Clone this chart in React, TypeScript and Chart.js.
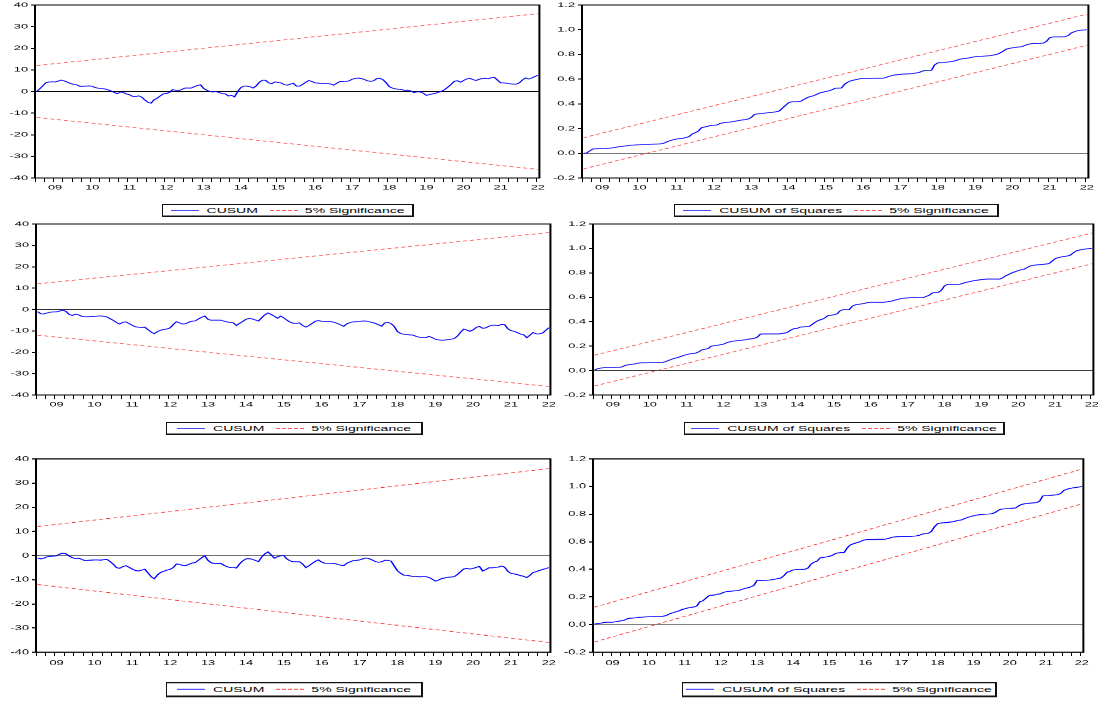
import React, { useEffect, useRef } from "react";
import { Chart, registerables } from "chart.js";

Chart.register(...registerables);

// ---------- DATA (monthly, 2008M07 .. 2022M01) ----------
const yearLabels = ["09", "10", "11", "12", "13", "14", "15", "16", "17", "18", "19", "20", "21", "22"];
const yearLabelIndex = [6, 18, 30, 42, 54, 66, 78, 90, 102, 114, 126, 138, 150, 162];

const cusumTicks = [-40, -30, -20, -10, 0, 10, 20, 30, 40];
const sqTicks = [-0.2, 0, 0.2, 0.4, 0.6, 0.8, 1.0, 1.2];

const cusumUpper = [12, 36];
const cusumLower = [-12, -36];
const sqUpper = [0.126, 1.126];
const sqLower = [-0.126, 0.874];

const cusum1 = [
  0.0, 1.2, 2.6, 4.0, 4.4, 4.5, 4.4, 4.8, 5.3, 4.9,
  4.3, 3.7, 3.3, 3.1, 2.4, 2.4, 2.5, 2.6, 2.4, 1.8,
  1.5, 1.4, 1.2, 0.8, 0.3, -0.4, -1.0, -0.3, -0.4, -1.1,
  -1.5, -2.2, -2.4, -2.0, -2.6, -3.9, -5.0, -5.4, -3.8, -3.1,
  -2.0, -1.1, -0.9, -0.4, 0.9, 0.5, 0.4, 1.0, 1.6, 1.6,
  1.6, 2.2, 2.8, 3.1, 1.4, 0.6, 0.0, -0.2, 0.0, -0.5,
  -1.0, -1.1, -2.1, -1.8, -2.5, 0.0, 1.8, 2.5, 2.5, 2.2,
  1.6, 2.6, 4.3, 5.2, 5.2, 4.0, 3.6, 4.4, 4.2, 4.0,
  3.2, 2.9, 3.4, 3.8, 2.5, 2.5, 3.3, 4.3, 5.1, 4.6,
  4.0, 3.9, 3.7, 3.7, 3.7, 3.5, 2.9, 3.8, 4.6, 4.6,
  4.7, 4.9, 5.7, 6.0, 6.2, 6.0, 5.5, 4.9, 4.7, 5.0,
  6.0, 6.1, 5.4, 4.0, 2.2, 1.6, 1.2, 1.0, 0.9, 0.5,
  0.6, 0.2, -0.5, -0.1, -0.2, -0.8, -1.8, -1.4, -1.1, -0.8,
  -0.3, 0.2, 1.0, 2.1, 3.3, 4.7, 5.0, 4.3, 5.1, 5.8,
  6.1, 5.5, 5.1, 5.6, 6.0, 6.1, 5.9, 6.4, 6.5, 5.2,
  4.0, 4.0, 3.8, 3.6, 3.4, 3.4, 4.0, 5.3, 6.3, 5.8,
  6.2, 6.9, 7.5,
];

const cusumSq1 = [
  0.000, 0.002, 0.020, 0.035, 0.037, 0.038, 0.038, 0.039, 0.041, 0.043,
  0.047, 0.052, 0.055, 0.058, 0.061, 0.065, 0.066, 0.068, 0.069, 0.070,
  0.071, 0.072, 0.073, 0.074, 0.075, 0.077, 0.083, 0.095, 0.103, 0.111,
  0.116, 0.119, 0.122, 0.128, 0.135, 0.157, 0.167, 0.180, 0.208, 0.213,
  0.219, 0.226, 0.227, 0.229, 0.242, 0.247, 0.250, 0.252, 0.255, 0.260,
  0.265, 0.269, 0.272, 0.277, 0.290, 0.314, 0.319, 0.321, 0.324, 0.327,
  0.330, 0.332, 0.336, 0.342, 0.365, 0.387, 0.410, 0.417, 0.417, 0.417,
  0.422, 0.436, 0.450, 0.460, 0.465, 0.476, 0.488, 0.494, 0.501, 0.505,
  0.515, 0.526, 0.527, 0.528, 0.558, 0.575, 0.586, 0.592, 0.598, 0.603,
  0.606, 0.606, 0.606, 0.606, 0.607, 0.607, 0.607, 0.610, 0.620, 0.627,
  0.633, 0.636, 0.639, 0.641, 0.642, 0.643, 0.646, 0.650, 0.654, 0.664,
  0.671, 0.671, 0.672, 0.715, 0.732, 0.733, 0.735, 0.738, 0.741, 0.745,
  0.751, 0.761, 0.765, 0.768, 0.771, 0.777, 0.781, 0.783, 0.784, 0.786,
  0.788, 0.790, 0.795, 0.800, 0.811, 0.825, 0.842, 0.849, 0.853, 0.857,
  0.860, 0.862, 0.873, 0.881, 0.886, 0.889, 0.889, 0.890, 0.892, 0.905,
  0.935, 0.941, 0.942, 0.942, 0.942, 0.944, 0.953, 0.974, 0.984, 0.992,
  0.996, 0.998, 1.000,
];

const cusum2 = [
  -1.0, -2.0, -2.1, -1.6, -1.3, -1.1, -1.1, -0.7, -0.3, -0.9,
  -2.3, -2.8, -2.2, -2.5, -3.2, -3.4, -3.4, -3.3, -3.2, -3.1,
  -3.0, -3.2, -3.5, -4.3, -5.1, -6.1, -6.8, -6.0, -5.8, -6.6,
  -7.4, -8.1, -8.3, -8.4, -8.3, -9.4, -10.6, -11.3, -10.3, -9.7,
  -9.3, -9.1, -8.6, -7.0, -5.7, -6.3, -6.8, -6.6, -5.9, -5.5,
  -5.3, -4.4, -3.6, -3.1, -4.6, -5.0, -5.0, -5.0, -5.0, -5.4,
  -5.8, -6.1, -6.2, -7.5, -6.5, -5.6, -4.6, -4.2, -4.4, -4.9,
  -5.4, -3.9, -2.5, -1.6, -2.3, -3.1, -4.1, -3.1, -3.9, -5.0,
  -5.9, -6.4, -6.5, -6.3, -7.5, -8.2, -7.5, -6.5, -5.5, -5.2,
  -5.5, -5.6, -5.6, -5.7, -6.0, -6.5, -7.2, -7.9, -6.7, -6.1,
  -5.8, -5.7, -5.6, -5.4, -5.4, -5.7, -6.1, -6.5, -7.1, -7.8,
  -6.3, -6.0, -6.6, -7.9, -10.3, -11.2, -11.6, -11.7, -11.9, -12.0,
  -12.6, -13.0, -13.1, -13.2, -12.6, -13.1, -13.9, -14.2, -14.4, -14.3,
  -14.1, -13.9, -13.6, -12.5, -10.7, -9.2, -9.6, -10.2, -9.5, -8.4,
  -7.9, -8.8, -8.6, -7.8, -7.4, -7.3, -7.5, -7.0, -7.1, -9.0,
  -9.9, -10.2, -10.8, -11.5, -11.8, -13.2, -12.0, -10.8, -11.4, -11.4,
  -11.0, -9.8, -8.5,
];

const cusumSq2 = [
  0.005, 0.015, 0.020, 0.024, 0.025, 0.025, 0.025, 0.025, 0.026, 0.030,
  0.043, 0.048, 0.051, 0.054, 0.060, 0.063, 0.064, 0.064, 0.065, 0.065,
  0.065, 0.065, 0.066, 0.072, 0.082, 0.091, 0.100, 0.106, 0.114, 0.124,
  0.131, 0.137, 0.140, 0.143, 0.154, 0.170, 0.175, 0.180, 0.200, 0.203,
  0.206, 0.211, 0.216, 0.227, 0.235, 0.240, 0.243, 0.246, 0.248, 0.252,
  0.257, 0.260, 0.264, 0.272, 0.298, 0.300, 0.300, 0.300, 0.300, 0.300,
  0.300, 0.304, 0.307, 0.315, 0.333, 0.343, 0.345, 0.356, 0.358, 0.360,
  0.362, 0.380, 0.398, 0.411, 0.419, 0.430, 0.450, 0.453, 0.457, 0.464,
  0.490, 0.499, 0.499, 0.499, 0.528, 0.539, 0.542, 0.546, 0.550, 0.557,
  0.559, 0.559, 0.559, 0.559, 0.559, 0.561, 0.566, 0.570, 0.578, 0.584,
  0.590, 0.593, 0.595, 0.597, 0.597, 0.597, 0.597, 0.597, 0.607, 0.616,
  0.635, 0.640, 0.640, 0.658, 0.694, 0.706, 0.706, 0.706, 0.706, 0.707,
  0.715, 0.722, 0.727, 0.733, 0.737, 0.741, 0.745, 0.747, 0.749, 0.749,
  0.749, 0.749, 0.749, 0.760, 0.777, 0.788, 0.800, 0.809, 0.819, 0.825,
  0.830, 0.845, 0.857, 0.862, 0.865, 0.867, 0.869, 0.872, 0.875, 0.895,
  0.915, 0.925, 0.930, 0.934, 0.938, 0.945, 0.965, 0.980, 0.987, 0.992,
  0.995, 0.998, 1.000,
];

const cusum3 = [
  -1.0, -1.4, -1.1, -0.5, -0.3, -0.2, -0.1, 0.6, 1.0, 0.7,
  -0.2, -0.9, -1.2, -1.1, -1.6, -2.1, -2.0, -1.9, -1.8, -1.8,
  -1.9, -1.7, -1.6, -2.5, -3.6, -5.0, -5.3, -4.6, -4.2, -4.9,
  -5.6, -6.2, -6.4, -6.0, -5.7, -7.2, -8.8, -9.6, -8.0, -7.0,
  -6.5, -6.0, -5.7, -5.0, -3.5, -3.7, -4.1, -4.2, -3.6, -3.1,
  -2.9, -1.9, -0.9, -0.1, -2.0, -3.0, -3.3, -3.3, -3.2, -4.0,
  -4.6, -5.0, -4.8, -5.2, -3.5, -2.2, -1.4, -1.3, -1.5, -2.0,
  -2.5, -0.6, 0.7, 1.5, 0.3, -1.1, -0.5, -0.1, 0.0, -1.4,
  -2.2, -2.6, -2.6, -2.6, -3.5, -5.0, -4.2, -3.3, -2.4, -1.8,
  -2.7, -3.2, -3.2, -3.2, -3.3, -3.6, -4.0, -4.2, -3.2, -2.6,
  -2.1, -2.0, -1.8, -1.4, -1.0, -1.3, -1.8, -2.5, -2.8, -2.6,
  -2.0, -2.0, -2.3, -4.3, -6.3, -7.3, -8.1, -8.2, -8.4, -8.7,
  -8.6, -8.8, -8.7, -8.7, -9.1, -9.7, -10.6, -10.2, -9.5, -9.3,
  -9.0, -8.9, -8.7, -7.9, -6.7, -5.6, -5.3, -5.6, -5.3, -4.9,
  -4.5, -6.4, -5.8, -5.1, -5.1, -4.9, -4.8, -4.3, -4.8, -6.5,
  -7.4, -7.6, -7.9, -8.3, -8.6, -9.1, -8.2, -7.0, -6.7, -6.2,
  -5.8, -5.4, -5.0,
];

const cusumSq3 = [
  0.004, 0.007, 0.010, 0.014, 0.017, 0.017, 0.017, 0.020, 0.024, 0.028,
  0.032, 0.043, 0.046, 0.048, 0.050, 0.053, 0.054, 0.056, 0.057, 0.058,
  0.058, 0.058, 0.058, 0.061, 0.067, 0.078, 0.085, 0.092, 0.099, 0.108,
  0.114, 0.120, 0.124, 0.127, 0.134, 0.165, 0.172, 0.190, 0.209, 0.212,
  0.215, 0.220, 0.224, 0.234, 0.239, 0.241, 0.243, 0.245, 0.247, 0.255,
  0.262, 0.267, 0.273, 0.284, 0.319, 0.319, 0.319, 0.320, 0.322, 0.325,
  0.329, 0.333, 0.337, 0.355, 0.379, 0.385, 0.396, 0.397, 0.398, 0.400,
  0.401, 0.410, 0.439, 0.451, 0.460, 0.483, 0.487, 0.490, 0.494, 0.501,
  0.514, 0.519, 0.521, 0.522, 0.555, 0.577, 0.585, 0.592, 0.598, 0.608,
  0.614, 0.615, 0.616, 0.616, 0.617, 0.617, 0.618, 0.620, 0.626, 0.633,
  0.635, 0.637, 0.638, 0.638, 0.638, 0.638, 0.640, 0.642, 0.647, 0.656,
  0.660, 0.662, 0.675, 0.708, 0.730, 0.735, 0.737, 0.739, 0.742, 0.744,
  0.750, 0.755, 0.758, 0.768, 0.776, 0.783, 0.788, 0.793, 0.796, 0.798,
  0.800, 0.801, 0.803, 0.810, 0.824, 0.836, 0.838, 0.840, 0.841, 0.843,
  0.845, 0.860, 0.871, 0.875, 0.878, 0.880, 0.882, 0.884, 0.895, 0.932,
  0.934, 0.935, 0.937, 0.939, 0.941, 0.950, 0.972, 0.980, 0.986, 0.990,
  0.993, 0.996, 1.000,
];

// ---------- LAYOUT / STYLE ----------
const FONT = "'Liberation Sans', Arial, Helvetica, sans-serif";
const N = cusum1.length;
const quarterTickIndex = Array.from({ length: 55 }, (_, k) => -0.5 + 3 * k);
const xTickValues = [...quarterTickIndex, ...yearLabelIndex].sort((a, b) => a - b);

type PanelCfg = {
  kind: "cusum" | "sq";
  series: number[];
  label: string;
  L: number; T: number; R: number; B: number;
  s: number;
  zero: string;
  legend: { left: number; top: number; width: number; height: number };
};

const panels: PanelCfg[] = [
  { kind: "cusum", series: cusum1, label: "CUSUM", L: 35, T: 5, R: 541, B: 178, s: 0.5, zero: "#000000", legend: { left: 162, top: 204, width: 252, height: 13 } },
  { kind: "sq", series: cusumSq1, label: "CUSUM of Squares", L: 582, T: 5, R: 1090, B: 178, s: 0.5, zero: "#7a7a7a", legend: { left: 674, top: 204, width: 325, height: 13 } },
  { kind: "cusum", series: cusum2, label: "CUSUM", L: 36, T: 224, R: 552, B: 395, s: 0.5, zero: "#303030", legend: { left: 166, top: 422, width: 257, height: 13 } },
  { kind: "sq", series: cusumSq2, label: "CUSUM of Squares", L: 593, T: 224, R: 1095, B: 395, s: 0.5, zero: "#404040", legend: { left: 684, top: 422, width: 321, height: 13 } },
  { kind: "cusum", series: cusum3, label: "CUSUM", L: 36, T: 459, R: 553, B: 652, s: 0.565, zero: "#707070", legend: { left: 166, top: 682, width: 257, height: 15 } },
  { kind: "sq", series: cusumSq3, label: "CUSUM of Squares", L: 593, T: 459, R: 1086, B: 652, s: 0.565, zero: "#808080", legend: { left: 682, top: 682, width: 315, height: 15 } },
];

const framePlugin = {
  id: "frame",
  afterDatasetsDraw(chart: any) {
    const { ctx, chartArea } = chart;
    const { left, top, right, bottom } = chartArea;
    ctx.save();
    ctx.strokeStyle = "#000";
    ctx.lineWidth = 2;
    ctx.strokeRect(left, top, right - left, bottom - top);
    ctx.restore();
  },
};

const Y_W = 40;
const R_PAD = 8;

function Panel({ cfg }: { cfg: PanelCfg }) {
  const ref = useRef<HTMLCanvasElement | null>(null);
  const s = cfg.s;
  const tN = Math.round(8 / s);
  const bN = Math.round(18 / s);
  const plotHN = Math.round((cfg.B - cfg.T) / s);
  const hN = plotHN + tN + bN;
  const w = cfg.R - cfg.L + Y_W + R_PAD;
  const left = cfg.L - Y_W;
  const top = cfg.T - tN * s;

  useEffect(() => {
    if (!ref.current) return;
    const isSq = cfg.kind === "sq";
    const up = isSq ? sqUpper : cusumUpper;
    const lo = isSq ? sqLower : cusumLower;
    const yTicks = isSq ? sqTicks : cusumTicks;
    const tickFont = { family: FONT, size: 12.8 };
    const tickLenX = Math.round(4 / s);
    const sigStyle = {
      borderColor: "#ff2a2a",
      borderWidth: 1.2,
      borderDash: [4, 3],
      pointRadius: 0,
    };
    const chart = new Chart(ref.current, {
      type: "line",
      data: {
        datasets: [
          {
            label: cfg.label,
            data: cfg.series.map((y, i) => ({ x: i, y })),
            borderColor: "#0000ff",
            borderWidth: 1.6,
            pointRadius: 0,
            tension: 0,
          },
          {
            label: "5% Significance",
            data: [{ x: 0, y: up[0] }, { x: N - 1, y: up[1] }],
            ...sigStyle,
          },
          {
            label: "",
            data: [{ x: 0, y: lo[0] }, { x: N - 1, y: lo[1] }],
            ...sigStyle,
          },
        ],
      },
      options: {
        animation: false,
        responsive: false,
        devicePixelRatio: 1,
        events: [],
        layout: { padding: { top: tN, right: R_PAD, left: 0, bottom: 0 } },
        plugins: { legend: { display: false }, tooltip: { enabled: false } },
        scales: {
          x: {
            type: "linear",
            min: -0.5,
            max: N - 0.5,
            afterBuildTicks: (sc: any) => {
              sc.ticks = xTickValues.map((v) => ({ value: v }));
            },
            afterFit: (sc: any) => {
              sc.height = bN;
            },
            ticks: {
              autoSkip: false,
              maxRotation: 0,
              minRotation: 0,
              padding: Math.round(11.5) - tickLenX,
              font: tickFont,
              color: "#000",
              callback: (v: any) => {
                const k = yearLabelIndex.indexOf(Number(v));
                return k >= 0 ? yearLabels[k] : "";
              },
            },
            grid: {
              drawOnChartArea: false,
              drawTicks: true,
              tickLength: tickLenX,
              tickWidth: 1,
              tickColor: (c: any) =>
                c.tick && yearLabelIndex.indexOf(c.tick.value) >= 0 ? "rgba(0,0,0,0)" : "#000",
            },
            border: { display: false },
          },
          y: {
            type: "linear",
            min: yTicks[0],
            max: yTicks[yTicks.length - 1],
            afterBuildTicks: (sc: any) => {
              sc.ticks = yTicks.map((v) => ({ value: v }));
            },
            afterFit: (sc: any) => {
              sc.width = Y_W;
            },
            ticks: {
              padding: 3,
              font: tickFont,
              color: "#000",
              callback: (v: any) => (isSq ? Number(v).toFixed(1) : String(v)),
            },
            grid: {
              drawOnChartArea: true,
              color: (c: any) =>
                c.tick && Math.abs(c.tick.value) < 1e-9 ? cfg.zero : "rgba(0,0,0,0)",
              lineWidth: 2,
              drawTicks: true,
              tickLength: 4,
              tickWidth: 2,
              tickColor: "#000",
            },
            border: { display: false },
          },
        },
      },
      plugins: [framePlugin],
    } as any);
    return () => chart.destroy();
  }, [cfg]);

  return (
    <div
      style={{
        position: "absolute",
        left,
        top,
        width: w,
        height: hN,
        transform: `scaleY(${s})`,
        transformOrigin: "0 0",
      }}
    >
      <canvas ref={ref} width={w} height={hN} />
    </div>
  );
}

function Legend({ cfg }: { cfg: PanelCfg }) {
  const { left, top, width, height } = cfg.legend;
  const s = cfg.s;
  return (
    <div style={{ position: "absolute", left, top, width, height }}>
      <div
        style={{
          width,
          height: height / s,
          transform: `scaleY(${s})`,
          transformOrigin: "0 0",
          boxSizing: "border-box",
          borderStyle: "solid",
          borderColor: "#111",
          borderWidth: "2px 2px 3px 1px",
          display: "flex",
          alignItems: "center",
          justifyContent: "center",
          fontFamily: FONT,
          fontSize: 14,
          color: "#000",
          whiteSpace: "nowrap",
          background: "#fff",
        }}
      >
        <span style={{ display: "inline-block", width: 28, height: 2, background: "#4848ff", marginRight: 8 }} />
        <span>{cfg.label}</span>
        <span
          style={{
            display: "inline-block",
            width: 29,
            height: 2,
            marginLeft: 12,
            marginRight: 6,
            background: "repeating-linear-gradient(90deg, #ff5a5a 0px, #ff5a5a 4px, transparent 4px, transparent 6px)",
          }}
        />
        <span>5% Significance</span>
      </div>
    </div>
  );
}

export default function App() {
  return (
    <div
      style={{
        position: "absolute",
        left: 0,
        top: 0,
        width: 1098,
        height: 704,
        overflow: "hidden",
        background: "#fff",
      }}
    >
      {panels.map((p, i) => (
        <Panel key={"p" + i} cfg={p} />
      ))}
      {panels.map((p, i) => (
        <Legend key={"l" + i} cfg={p} />
      ))}
    </div>
  );
}
